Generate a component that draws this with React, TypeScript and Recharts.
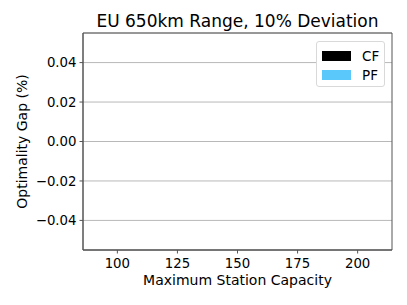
import React from 'react';
import { BarChart, Bar, XAxis, YAxis, CartesianGrid, ReferenceArea } from 'recharts';

const capacities = [100, 125, 150, 175, 200];
const cfGap = [0, 0, 0, 0, 0];
const pfGap = [0, 0, 0, 0, 0];
const xTicks = [100, 125, 150, 175, 200];
const yTicks = [-0.04, -0.02, 0, 0.02, 0.04];
const xDomain = [85.7, 214.3];
const yDomain = [-0.055, 0.055];
const seriesNames = ['CF', 'PF'];
const seriesColors = ['#000000', '#5ac8fa'];

const data = capacities.map((c, i) => ({ cap: c, CF: cfGap[i], PF: pfGap[i] }));

const FONT = 'DejaVu Sans, sans-serif';

const fmtY = (v: number) => {
  const s = Math.abs(v).toFixed(2);
  return v < -1e-9 ? '\u2212' + s : s;
};

const LegendBox = () => (
  <div
    style={{
      position: 'absolute',
      left: 316,
      top: 41,
      background: '#fff',
      border: '1px solid #d9d9d9',
      borderRadius: 3,
      width: 69,
      height: 46,
      boxSizing: 'border-box',
      paddingTop: 4,
      fontFamily: FONT,
      fontSize: 13.5,
    }}
  >
    {seriesNames.map((n, i) => (
      <div key={n} style={{ display: 'flex', alignItems: 'center', height: 19.5 }}>
        <div style={{ width: 29, height: 10, background: seriesColors[i], marginLeft: 5 }} />
        <span style={{ marginLeft: 11, color: '#000' }}>{n}</span>
      </div>
    ))}
  </div>
);

export default function App() {
  return (
    <div style={{ position: 'absolute', left: 0, top: 0, width: 407, height: 305, background: '#fff' }}>
      <BarChart
        width={407}
        height={305}
        data={data}
        margin={{ top: 33, right: 15, bottom: 0, left: 0 }}
        barGap={0}
      >
        <CartesianGrid vertical={false} stroke="#b8b8b8" strokeWidth={1} />
        <XAxis
          dataKey="cap"
          type="number"
          domain={xDomain}
          ticks={xTicks}
          allowDataOverflow
          height={55}
          stroke="#555"
          tickSize={3.5}
          tick={{ fontFamily: FONT, fontSize: 13.3, fill: '#000' }}
          tickMargin={5}
          label={{
            value: 'Maximum Station Capacity',
            position: 'insideBottom',
            offset: 20,
            style: { fontFamily: FONT, fontSize: 14, fill: '#000' },
          }}
        />
        <YAxis
          type="number"
          domain={yDomain}
          ticks={yTicks}
          allowDataOverflow
          width={83}
          stroke="#555"
          tickSize={3.5}
          tickFormatter={fmtY}
          tick={{ fontFamily: FONT, fontSize: 13.3, fill: '#000' }}
          tickMargin={3}
          label={{
            value: 'Optimality Gap (%)',
            angle: -90,
            position: 'insideLeft',
            offset: 22,
            style: { fontFamily: FONT, fontSize: 14, fill: '#000', textAnchor: 'middle' },
          }}
        />
        <ReferenceArea
          x1={xDomain[0]}
          x2={xDomain[1]}
          y1={yDomain[0]}
          y2={yDomain[1]}
          fill="none"
          stroke="#555"
          strokeWidth={1}
          ifOverflow="extendDomain"
        />
        <Bar dataKey="CF" name={seriesNames[0]} fill={seriesColors[0]} barSize={10} isAnimationActive={false} />
        <Bar dataKey="PF" name={seriesNames[1]} fill={seriesColors[1]} barSize={10} isAnimationActive={false} />
      </BarChart>
      <div
        style={{
          position: 'absolute',
          left: 83,
          width: 309,
          top: 11,
          textAlign: 'center',
          fontFamily: FONT,
          fontSize: 17,
          lineHeight: '20px',
          color: '#000',
        }}
      >
        EU 650km Range, 10% Deviation
      </div>
      <LegendBox />
    </div>
  );
}
